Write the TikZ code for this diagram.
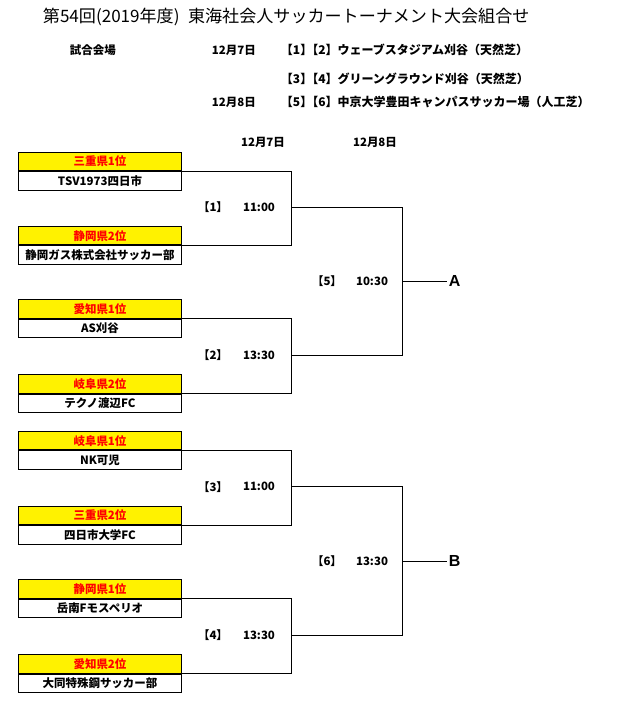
\documentclass[tikz,border=0pt]{standalone}
\usepackage{fontspec}
\setmainfont{Noto Sans CJK JP}
\newfontfamily\latin{Liberation Sans}
\usetikzlibrary{positioning}
\begin{document}
\begin{tikzpicture}[x=.75pt, y=-.75pt, line width=.75pt,
    font=\fontsize{8.6}{10}\selectfont\bfseries,
    pref/.style={draw, fill=yellow, text=red, minimum width=122.25pt, minimum height=13.8pt, inner sep=0pt},
    team/.style={draw, fill=white, minimum width=122.25pt, minimum height=13.8pt, inner sep=0pt},
    place/.style={anchor=west, font=\fontsize{9}{10}\selectfont\bfseries},
    winner/.style={font=\latin\fontsize{12}{14}\selectfont\bfseries, inner sep=1pt}]
  \useasboundingbox (0,0) rectangle (623,706);
  \node[anchor=west, font=\fontsize{12.8}{15}\selectfont] (title) at (38,17)
    {第54回(2019年度)\hspace{.5em}東海社会人サッカートーナメント大会組合せ};
  \node[anchor=west] (venue) at (65,50) {試合会場};
  \node[anchor=west] (d1) at (207,50) {12月7日};
  \node[anchor=west] (d2) at (207,102) {12月8日};
  \node[place] (v12) at (276,50) {【1】\kern-.5em【2】ウェーブスタジアム刈谷（天然芝）};
  \node[place] (v34) at (276,79) {【3】\kern-.5em【4】グリーングラウンド刈谷（天然芝）};
  \node[place] (v56) at (276,102) {【5】\kern-.5em【6】中京大学豊田キャンパスサッカー場（人工芝）};
  \node (h1) at (263,142) {12月7日};
  \node (h2) at (375,142) {12月8日};
  \foreach \i/\y/\P/\T in {1/151.7/三重県1位/TSV1973四日市, 2/226/静岡県2位/静岡ガス株式会社サッカー部,
      3/299.3/愛知県1位/AS刈谷, 4/374.3/岐阜県2位/テクノ渡辺FC, 5/431/岐阜県1位/NK可児,
      6/505.7/三重県2位/四日市大学FC, 7/579.3/静岡県1位/岳南Fモスペリオ, 8/654.3/愛知県2位/大同特殊鋼サッカー部}{
    \node[pref, anchor=north west] (p\i) at (18,\y) {\P};
    \node[team, below=0pt of p\i] (t\i) {\T};
  }
  \foreach \a/\b/\g/\y/\time in {1/2/1/207.3/11:00, 3/4/2/355.2/13:30, 5/6/3/486.8/11:00, 7/8/4/635.2/13:30}{
    \coordinate (g\g) at (291.7,\y);
    \draw (p\a.south east) -| (g\g) |- (p\b.south east);
    \node (n\g) at (213,\y) {【\g】};
    \node (s\g) at (259,\y) {\time};
  }
  \foreach \a/\b/\g/\y/\time/\w in {1/2/5/281.3/10:30/A, 3/4/6/561/13:30/B}{
    \coordinate (g\g) at (402.3,\y);
    \draw (g\a) -| (g\g) |- (g\b);
    \node (n\g) at (327,\y) {【\g】};
    \node (s\g) at (372,\y) {\time};
    \node[winner, anchor=west] (w\w) at (447,\y) {\w};
    \draw (g\g) -- (w\w);
  }
\end{tikzpicture}
\end{document}
